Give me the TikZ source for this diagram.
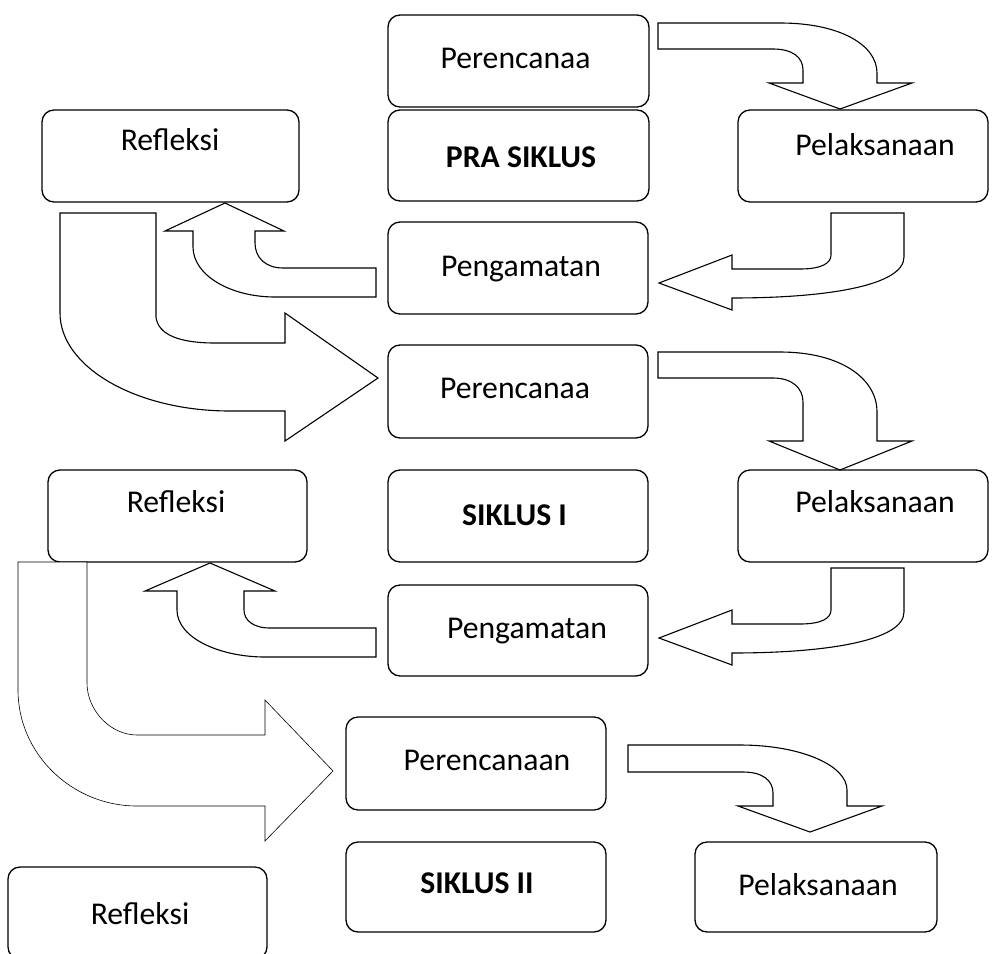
\documentclass[tikz,border=0pt]{standalone}
\usepackage{fontspec}
\setmainfont{Carlito}
\tikzset{
  box/.style={draw, line width=1.3pt, rounded corners=12pt, inner sep=0pt, minimum width=260pt, minimum height=92pt},
  lbl/.style={anchor=base, inner sep=0pt, font=\fontsize{31.7}{38}\selectfont},
  blbl/.style={lbl, font=\fontsize{31.7}{38}\selectfont\bfseries},
  barrow/.style={draw, line width=1.1pt, line join=miter, fill=white},
  thinarrow/.style={draw, line width=0.6pt, line join=miter, fill=white}
}
\begin{document}
\begin{tikzpicture}[x=1pt, y=-1pt]
\useasboundingbox (0,0) rectangle (995,953);
\clip (0,0) rectangle (995,953);
% boxes
\node[box, minimum width=261pt] (p1) at (518.5,61) {};
\node[box, minimum width=261pt, minimum height=91pt] (pra) at (518.5,155.5) {};
\node[box, minimum width=257pt] (r1) at (170.5,156) {};
\node[box, minimum width=250pt] (l1) at (863,156) {};
\node[box] (g1) at (518,268) {};
\node[box, minimum height=93pt] (p2) at (518,391.5) {};
\node[box, minimum width=259pt] (r2) at (177.5,516) {};
\node[box] (s1) at (518,516) {};
\node[box, minimum width=250pt] (l2) at (863,516) {};
\node[box, minimum height=91pt] (g2) at (518,630.5) {};
\node[box, minimum height=93pt] (p3) at (476,763.5) {};
\node[box, minimum height=90pt] (s2) at (476,887) {};
\node[box, minimum width=242pt, minimum height=90pt] (l3) at (816,887) {};
\node[box, minimum width=259pt] (r3) at (137.5,913) {};
% labels
\node[lbl] (p1t) at (515.5,68) {Perencanaa};
\node[blbl] (prat) at (521,167) {PRA SIKLUS};
\node[lbl] (r1t) at (170,150) {Refleksi};
\node[lbl] (l1t) at (875,155) {Pelaksanaan};
\node[lbl] (g1t) at (521,276) {Pengamatan};
\node[lbl] (p2t) at (515,398) {Perencanaa};
\node[blbl] (s1t) at (514.5,525) {SIKLUS I};
\node[lbl] (r2t) at (176,512) {Refleksi};
\node[lbl] (l2t) at (875,512) {Pelaksanaan};
\node[lbl] (g2t) at (527,638) {Pengamatan};
\node[lbl] (p3t) at (487,770) {Perencanaan};
\node[blbl] (s2t) at (477,893) {SIKLUS II};
\node[lbl] (l3t) at (818,895) {Pelaksanaan};
\node[lbl] (r3t) at (140,924) {Refleksi};
% arrow A: p1 -> l1
\path[barrow] (658,23) -- (780,23) .. controls (840,23) and (877,45) .. (877,73) -- (877,83) -- (912,83) -- (840,109) -- (769,83) -- (803,83) -- (803,70) .. controls (803,57) and (792,49) .. (773,49) -- (658,49) -- cycle;
% arrow B: l1 -> g1
\path[barrow] (831,213) -- (904,213) -- (904,257) .. controls (904,285) and (830,298) .. (732,298) -- (732,310) -- (659,283) -- (732,255) -- (732,269) -- (800,269) .. controls (822,269) and (831,263) .. (831,255) -- cycle;
% arrow C: g1 -> r1
\path[barrow] (376,268) -- (283,268) .. controls (266,268) and (255,258) .. (255,243) -- (255,231) -- (284,231) -- (225,203) -- (165,231) -- (193,231) -- (193,247) .. controls (193,275) and (230,297) .. (275,297) -- (376,297) -- cycle;
% arrow D: r1 -> p2
\path[barrow] (60,213) -- (156,213) -- (156,317) .. controls (158,335) and (180,343) .. (215,343) -- (285,343) -- (285,313) -- (378,378) -- (285,441) -- (285,411) -- (230,411) .. controls (136,411) and (60,367) .. (60,313) -- cycle;
% arrow E: p2 -> l2
\path[barrow] (658,352) -- (780,352) .. controls (840,352) and (877,378) .. (877,412) -- (877,441) -- (912,441) -- (840,470) -- (769,441) -- (803,441) -- (803,402) .. controls (803,388) and (792,378) .. (773,378) -- (658,378) -- cycle;
% arrow F: l2 -> g2
\path[barrow] (831,568) -- (904,568) -- (904,612) .. controls (904,640) and (830,653) .. (732,653) -- (732,665) -- (659,638) -- (732,610) -- (732,624) -- (800,624) .. controls (822,624) and (831,618) .. (831,610) -- cycle;
% arrow G: g2 -> r2
\path[barrow] (376,628) -- (270,628) .. controls (253,628) and (244,620) .. (244,610) -- (244,591) -- (275,591) -- (210,563) -- (145,591) -- (177,591) -- (177,610) .. controls (177,638) and (220,657) .. (265,657) -- (376,657) -- cycle;
% arrow H: r2 -> p3
\path[thinarrow] (18,562) -- (87,562) -- (87,683) .. controls (87,710) and (110,735) .. (137,735) -- (265,735) -- (265,700) -- (333,771) -- (265,841) -- (265,806) -- (137,806) .. controls (72,806) and (18,754) .. (18,690) -- cycle;
% arrow I: p3 -> l3
\path[barrow] (628,745) -- (740,745) .. controls (800,745) and (847,765) .. (847,790) -- (847,806) -- (882,806) -- (810,832) -- (738,806) -- (773,806) -- (773,793) .. controls (773,780) and (762,772) .. (743,772) -- (628,772) -- cycle;
\end{tikzpicture}
\end{document}
